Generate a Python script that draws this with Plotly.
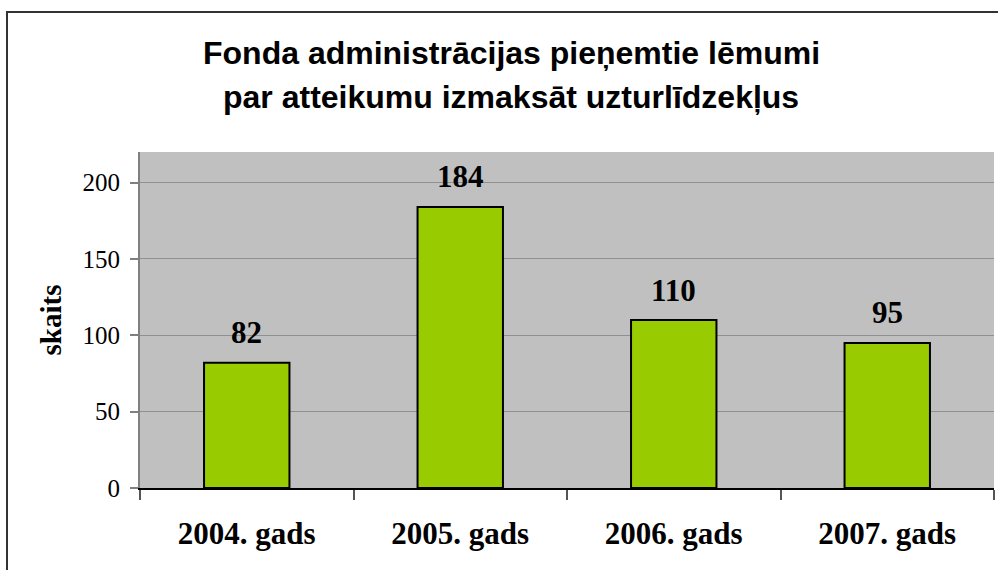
import plotly.graph_objects as go

categories = ["2004. gads", "2005. gads", "2006. gads", "2007. gads"]
values = [82, 184, 110, 95]
y_ticks = [0, 50, 100, 150, 200]
title_lines = ["Fonda administrācijas pieņemtie lēmumi", "par atteikumu izmaksāt uzturlīdzekļus"]
y_title = "skaits"

W, H = 998, 570
ML, MR, MT, MB = 140, 4, 152, 82
pw, ph = W - ML - MR, H - MT - MB

SERIF = "Liberation Serif, Times New Roman, serif"
SANS = "Liberation Sans, Arial, sans-serif"

fig = go.Figure()
fig.add_trace(go.Bar(
    x=categories, y=values,
    marker=dict(color="#99CC00", line=dict(color="#000000", width=2)),
    hoverinfo="skip",
))

for c, v in zip(categories, values):
    fig.add_annotation(x=c, y=v, text=f"<b>{v}</b>", showarrow=False,
                       yshift=30, yanchor="middle", xanchor="center",
                       font=dict(family=SERIF, size=31, color="#000"))

def px_x(p):
    return (p - ML) / pw

def px_y(p):
    return (H - MB - p) / ph

fig.add_annotation(x=px_x(511), y=px_y(53), xref="paper", yref="paper", text=f"<b>{title_lines[0]}</b>",
                   showarrow=False, xanchor="center", yanchor="middle",
                   font=dict(family=SANS, size=32, color="#000"))
fig.add_annotation(x=px_x(511), y=px_y(97), xref="paper", yref="paper", text=f"<b>{title_lines[1]}</b>",
                   showarrow=False, xanchor="center", yanchor="middle",
                   font=dict(family=SANS, size=32, color="#000"))

fig.add_shape(type="rect", xref="paper", yref="paper",
              x0=px_x(7), y0=px_y(H + 40), x1=px_x(W + 40), y1=px_y(12),
              line=dict(color="#333333", width=2), fillcolor="rgba(0,0,0,0)", layer="above")

fig.update_layout(
    width=W, height=H,
    margin=dict(l=ML, r=MR, t=MT, b=MB, pad=0),
    paper_bgcolor="#FFFFFF", plot_bgcolor="#C0C0C0",
    showlegend=False, bargap=0.6,
    font=dict(family=SERIF, color="#000"),
)
fig.update_xaxes(
    type="category", tickson="boundaries", ticks="outside", ticklen=10, tickcolor="#555555", tickwidth=1.5,
    showline=True, linecolor="#000000", linewidth=1.5, showgrid=False,
    tickfont=dict(family=SERIF, size=31, color="#000"),
    tickprefix="<b>", ticksuffix="</b>", ticklabelstandoff=17,
)
fig.update_yaxes(
    range=[0, 220], tickvals=y_ticks, ticks="outside", ticklen=8, tickcolor="#808080", tickwidth=1.5,
    showline=True, linecolor="#808080", linewidth=2, showgrid=True, gridcolor="#909090", gridwidth=1,
    zeroline=False,
    tickfont=dict(family=SERIF, size=25, color="#000"),
    ticklabelstandoff=5,
    title=dict(text=f"<b>{y_title}</b>", font=dict(family=SERIF, size=29, color="#000"), standoff=12),
)

fig.write_html("out.html", config={"displayModeBar": False},
               post_script="document.body.style.margin='0';")
